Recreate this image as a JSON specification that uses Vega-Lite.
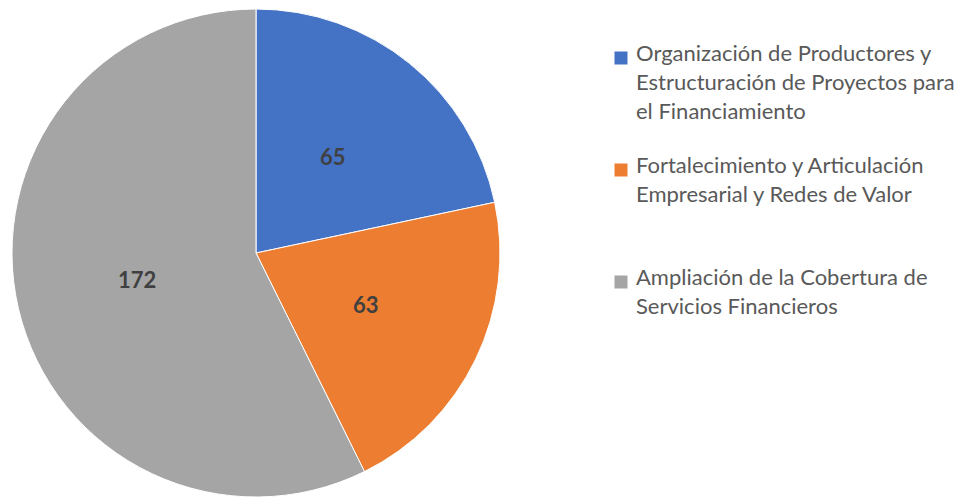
{
  "$schema": "https://vega.github.io/schema/vega-lite/v6.json",
  "width": 512,
  "height": 506,
  "padding": 0,
  "background": "white",
  "view": {"stroke": null},
  "config": {"style": {"guide-label": {"lineHeight": 29, "dy": -14}}},
  "data": {
    "values": [
      {"i": 1, "categoria": "Organización de Productores y Estructuración de Proyectos para el Financiamiento", "valor": 65},
      {"i": 2, "categoria": "Fortalecimiento y Articulación Empresarial y Redes de Valor", "valor": 63},
      {"i": 3, "categoria": "Ampliación de la Cobertura de Servicios Financieros", "valor": 172}
    ]
  },
  "layer": [
    {
      "mark": {"type": "arc", "outerRadius": 244, "stroke": "white", "strokeWidth": 1},
      "encoding": {
        "theta": {"field": "valor", "type": "quantitative", "stack": true},
        "order": {"field": "i", "type": "quantitative"},
        "color": {
          "field": "categoria",
          "type": "nominal",
          "sort": null,
          "scale": {
            "domain": [
              "Organización de Productores y Estructuración de Proyectos para el Financiamiento",
              "Fortalecimiento y Articulación Empresarial y Redes de Valor",
              "Ampliación de la Cobertura de Servicios Financieros"
            ],
            "range": ["#4472C4", "#ED7D31", "#A5A5A5"]
          },
          "legend": {
            "orient": "none",
            "legendX": 610,
            "legendY": 47,
            "title": null,
            "padding": 0,
            "symbolType": "square",
            "symbolSize": 169,
            "symbolStrokeWidth": 0,
            "labelFont": "Lato",
            "labelFontSize": 22,
            "labelColor": "#595959",
            "labelLimit": 500,
            "labelOffset": 4,
            "rowPadding": 32,
            "labelBaseline": "top",
            "labelExpr": "datum.label == 'Organización de Productores y Estructuración de Proyectos para el Financiamiento' ? ['Organización de Productores y', 'Estructuración de Proyectos para', 'el Financiamiento'] : datum.label == 'Fortalecimiento y Articulación Empresarial y Redes de Valor' ? ['Fortalecimiento y Articulación', 'Empresarial y Redes de Valor', ' '] : ['Ampliación de la Cobertura de', 'Servicios Financieros', ' ']"
          }
        }
      }
    },
    {
      "mark": {"type": "text", "radius": 122, "font": "Lato", "fontSize": 22, "fontWeight": "bold", "color": "#404040"},
      "encoding": {
        "theta": {"field": "valor", "type": "quantitative", "stack": true},
        "order": {"field": "i", "type": "quantitative"},
        "text": {"field": "valor", "type": "quantitative"}
      }
    }
  ]
}
